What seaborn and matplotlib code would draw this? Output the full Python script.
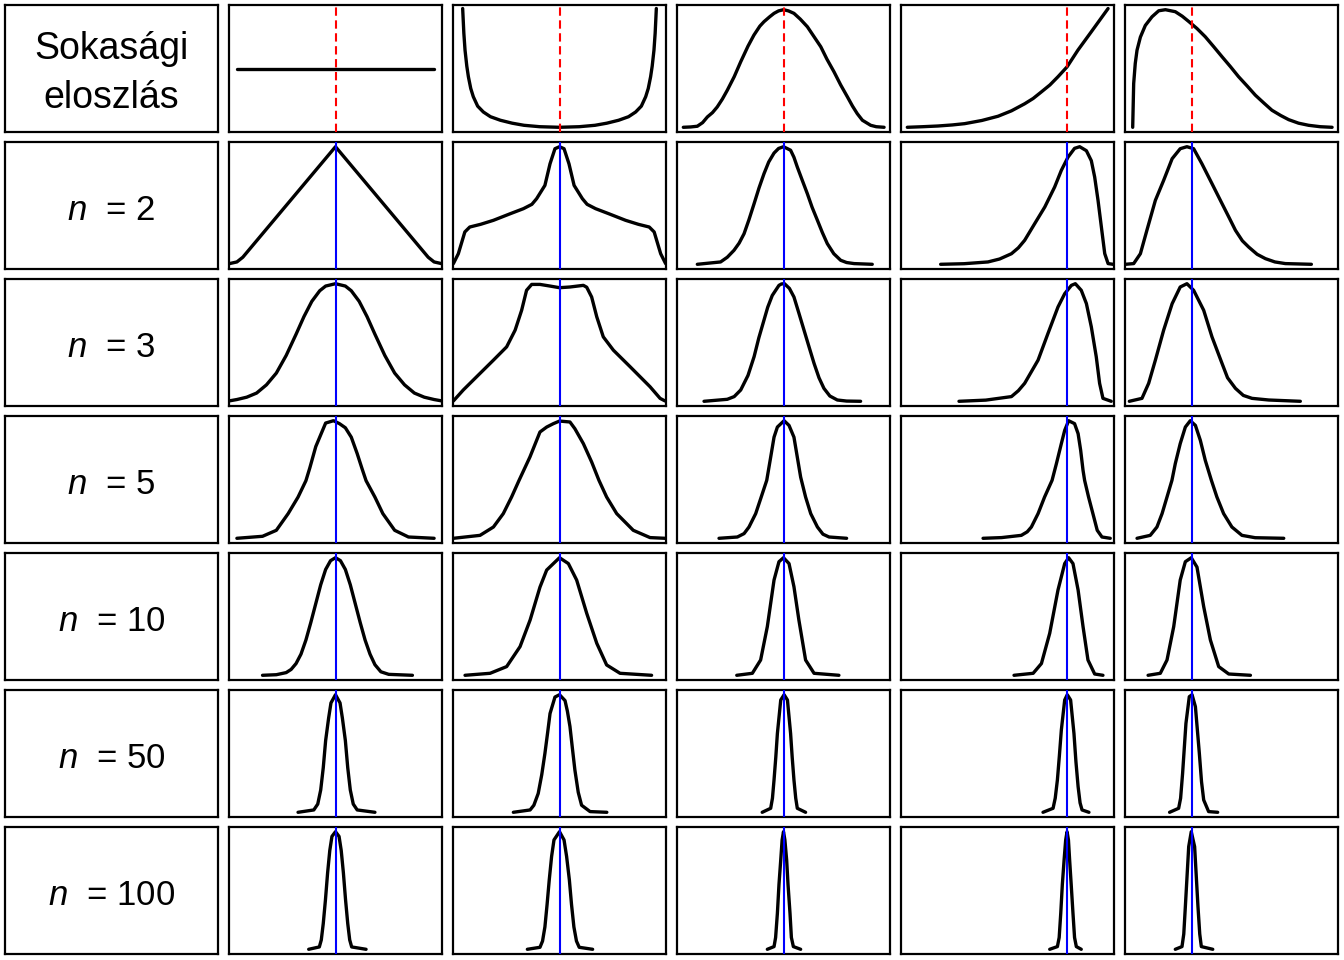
import matplotlib
matplotlib.use("Agg")
import matplotlib.pyplot as plt
import seaborn as sns

# row labels (first column)
row_labels = ["Sokasági\neloszlás", "$n$  = 2", "$n$  = 3", "$n$  = 5",
              "$n$  = 10", "$n$  = 50", "$n$  = 100"]

# population means (vertical lines)
pop_means = [0.5, 0.5, 0.5, 0.80, 0.298]

# --- column 1: uniform population, rows: population, n=2,3,5,10,50,100
unif_x = [
    [0.0, 1.0],
    [-0.04, 0.0, 0.03, 0.1, 0.2, 0.3, 0.4, 0.475, 0.5, 0.525, 0.6, 0.7, 0.8, 0.9, 0.97, 1.0, 1.04],
    [-0.04, 0.0, 0.05, 0.1, 0.15, 0.2, 0.25, 0.3, 0.34, 0.38, 0.42, 0.45, 0.5, 0.55, 0.58, 0.62,
     0.66, 0.7, 0.75, 0.8, 0.85, 0.9, 0.95, 1.0, 1.04],
    [0.0, 0.13, 0.2, 0.26, 0.31, 0.35, 0.37, 0.4, 0.435, 0.45, 0.49, 0.52, 0.55, 0.58, 0.61,
     0.635, 0.655, 0.7, 0.74, 0.8, 0.87, 1.0],
    [0.13, 0.2, 0.25, 0.275, 0.3, 0.325, 0.35, 0.375, 0.4, 0.425, 0.45, 0.475, 0.5, 0.525, 0.55,
     0.575, 0.6, 0.625, 0.65, 0.675, 0.7, 0.73, 0.77, 0.89],
    [0.31, 0.39, 0.41, 0.425, 0.438, 0.45, 0.465, 0.477, 0.5, 0.523, 0.535, 0.55, 0.562, 0.575,
     0.59, 0.61, 0.7],
    [0.364, 0.418, 0.428, 0.438, 0.449, 0.46, 0.471, 0.482, 0.5, 0.518, 0.529, 0.54, 0.551,
     0.562, 0.572, 0.582, 0.655],
]
unif_y = [
    [0.5, 0.5],
    [0.005, 0.02, 0.06, 0.2, 0.4, 0.6, 0.8, 0.95, 1.0, 0.95, 0.8, 0.6, 0.4, 0.2, 0.06, 0.02, 0.005],
    [0.003, 0.015, 0.035, 0.07, 0.14, 0.24, 0.39, 0.57, 0.72, 0.85, 0.94, 0.98, 1.0, 0.98, 0.94,
     0.85, 0.72, 0.57, 0.39, 0.24, 0.14, 0.07, 0.035, 0.015, 0.003],
    [0.0, 0.017, 0.068, 0.21, 0.35, 0.49, 0.6, 0.78, 0.92, 0.98, 1.0, 0.975, 0.94, 0.86, 0.72,
     0.59, 0.49, 0.35, 0.21, 0.068, 0.011, 0.0],
    [0.0, 0.005, 0.023, 0.05, 0.1, 0.18, 0.3, 0.45, 0.61, 0.77, 0.9, 0.975, 1.0, 0.975, 0.9,
     0.77, 0.61, 0.45, 0.3, 0.18, 0.09, 0.03, 0.008, 0.0],
    [0.0, 0.02, 0.07, 0.19, 0.38, 0.61, 0.8, 0.93, 1.0, 0.93, 0.8, 0.61, 0.38, 0.19, 0.07, 0.02, 0.0],
    [0.0, 0.02, 0.08, 0.22, 0.42, 0.65, 0.84, 0.96, 1.0, 0.96, 0.84, 0.65, 0.42, 0.22, 0.08, 0.02, 0.0],
]

# --- column 2: U-shaped population
ushape_x = [
    [0.009, 0.015, 0.021, 0.03, 0.038, 0.05, 0.063, 0.085, 0.114, 0.15, 0.2, 0.26, 0.32, 0.4, 0.5,
     0.6, 0.68, 0.74, 0.8, 0.85, 0.886, 0.915, 0.937, 0.95, 0.962, 0.97, 0.979, 0.985, 0.991],
    [-0.038, -0.013, 0.02, 0.045, 0.1, 0.165, 0.25, 0.317, 0.36, 0.384, 0.426, 0.452, 0.477, 0.5,
     0.523, 0.548, 0.574, 0.616, 0.64, 0.683, 0.75, 0.835, 0.9, 0.955, 0.98, 1.013, 1.038],
    [-0.038, 0.012, 0.08, 0.165, 0.232, 0.275, 0.308, 0.333, 0.359, 0.401, 0.452, 0.5, 0.553,
     0.621, 0.638, 0.663, 0.689, 0.722, 0.773, 0.858, 0.959, 1.01, 1.035],
    [-0.038, 0.097, 0.165, 0.215, 0.257, 0.295, 0.35, 0.401, 0.435, 0.469, 0.5, 0.553, 0.578,
     0.621, 0.663, 0.70, 0.739, 0.79, 0.874, 0.959, 1.035],
    [0.021, 0.148, 0.232, 0.30, 0.351, 0.401, 0.435, 0.469, 0.5, 0.545, 0.587, 0.638, 0.689,
     0.739, 0.807, 0.967],
    [0.266, 0.351, 0.37, 0.392, 0.41, 0.426, 0.44, 0.452, 0.477, 0.5, 0.528, 0.54, 0.553, 0.565,
     0.578, 0.595, 0.612, 0.655, 0.74],
    [0.337, 0.401, 0.414, 0.426, 0.437, 0.448, 0.46, 0.472, 0.5, 0.523, 0.536, 0.55, 0.561, 0.573,
     0.586, 0.6, 0.668],
]
ushape_y = [
    [1.01, 0.8, 0.656, 0.52, 0.43, 0.33, 0.26, 0.18, 0.13, 0.09, 0.06, 0.035, 0.017, 0.005, 0.0,
     0.005, 0.017, 0.035, 0.06, 0.09, 0.13, 0.18, 0.26, 0.33, 0.43, 0.52, 0.656, 0.8, 1.01],
    [0.006, 0.09, 0.275, 0.317, 0.34, 0.374, 0.43, 0.473, 0.51, 0.558, 0.671, 0.855, 0.983, 1.0,
     0.983, 0.855, 0.671, 0.558, 0.51, 0.473, 0.43, 0.374, 0.34, 0.317, 0.275, 0.09, 0.006],
    [0.003, 0.096, 0.209, 0.35, 0.463, 0.605, 0.774, 0.944, 0.994, 0.994, 0.98, 0.966, 0.972,
     0.986, 0.97, 0.887, 0.718, 0.548, 0.435, 0.294, 0.124, 0.025, 0.003],
    [0.0, 0.025, 0.096, 0.21, 0.351, 0.493, 0.691, 0.904, 0.946, 0.975, 0.997, 0.989, 0.932,
     0.805, 0.649, 0.493, 0.351, 0.21, 0.068, 0.006, 0.0],
    [0.0, 0.017, 0.074, 0.244, 0.47, 0.75, 0.895, 0.95, 1.0, 0.95, 0.81, 0.527, 0.272, 0.088,
     0.017, 0.0],
    [0.0, 0.02, 0.06, 0.16, 0.32, 0.5, 0.68, 0.84, 0.98, 1.0, 0.95, 0.86, 0.73, 0.55, 0.36, 0.17,
     0.06, 0.006, 0.0],
    [0.0, 0.017, 0.07, 0.19, 0.38, 0.59, 0.79, 0.93, 1.0, 0.93, 0.79, 0.59, 0.38, 0.19, 0.07,
     0.017, 0.0],
]

# --- column 3: normal population
normal_x = [
    [-0.008, 0.03, 0.063, 0.09, 0.114, 0.14, 0.164, 0.19, 0.215, 0.25, 0.283, 0.32, 0.35, 0.38,
     0.401, 0.43, 0.452, 0.475, 0.5, 0.525, 0.553, 0.585, 0.621, 0.655, 0.689, 0.72, 0.756,
     0.79, 0.824, 0.85, 0.874, 0.9, 0.942, 0.97, 1.01],
    [0.063, 0.181, 0.215, 0.249, 0.275, 0.30, 0.325, 0.351, 0.376, 0.401, 0.425, 0.452, 0.475,
     0.5, 0.536, 0.553, 0.57, 0.595, 0.621, 0.645, 0.672, 0.697, 0.722, 0.755, 0.79, 0.82,
     0.858, 0.95],
    [0.097, 0.215, 0.25, 0.283, 0.32, 0.351, 0.375, 0.401, 0.42, 0.443, 0.477, 0.49, 0.505,
     0.53, 0.553, 0.578, 0.604, 0.63, 0.655, 0.68, 0.705, 0.735, 0.773, 0.82, 0.891],
    [0.173, 0.266, 0.3, 0.325, 0.359, 0.387, 0.415, 0.435, 0.452, 0.469, 0.503, 0.528, 0.553,
     0.57, 0.587, 0.612, 0.638, 0.672, 0.7, 0.731, 0.82],
    [0.263, 0.342, 0.384, 0.418, 0.452, 0.477, 0.5, 0.528, 0.553, 0.578, 0.612, 0.655, 0.781],
    [0.392, 0.435, 0.444, 0.452, 0.461, 0.469, 0.486, 0.503, 0.52, 0.536, 0.544, 0.553, 0.562,
     0.57, 0.612],
    [0.418, 0.452, 0.46, 0.469, 0.477, 0.486, 0.493, 0.5, 0.507, 0.516, 0.523, 0.533, 0.54, 0.55,
     0.587],
]
normal_y = [
    [0.0, 0.003, 0.009, 0.04, 0.088, 0.125, 0.173, 0.24, 0.315, 0.43, 0.557, 0.69, 0.784, 0.86,
     0.898, 0.94, 0.969, 0.99, 1.0, 0.99, 0.969, 0.92, 0.855, 0.77, 0.685, 0.58, 0.472, 0.36,
     0.259, 0.18, 0.116, 0.06, 0.017, 0.005, 0.0],
    [0.0, 0.02, 0.06, 0.119, 0.18, 0.26, 0.38, 0.516, 0.65, 0.77, 0.87, 0.946, 0.985, 1.0,
     0.97, 0.91, 0.827, 0.715, 0.6, 0.485, 0.374, 0.27, 0.176, 0.09, 0.034, 0.015, 0.006, 0.0],
    [0.0, 0.017, 0.04, 0.096, 0.22, 0.38, 0.54, 0.69, 0.8, 0.9, 0.986, 0.998, 1.0, 0.96, 0.887,
     0.75, 0.605, 0.46, 0.322, 0.2, 0.11, 0.045, 0.011, 0.002, 0.0],
    [0.0, 0.011, 0.04, 0.096, 0.21, 0.351, 0.493, 0.69, 0.86, 0.946, 1.0, 0.96, 0.86, 0.69,
     0.52, 0.351, 0.21, 0.096, 0.035, 0.011, 0.0],
    [0.0, 0.017, 0.13, 0.414, 0.81, 0.966, 1.0, 0.95, 0.753, 0.47, 0.13, 0.017, 0.0],
    [0.0, 0.034, 0.12, 0.275, 0.47, 0.67, 0.955, 1.0, 0.955, 0.67, 0.47, 0.275, 0.12, 0.034, 0.0],
    [0.0, 0.023, 0.1, 0.306, 0.55, 0.76, 0.93, 1.0, 0.93, 0.76, 0.55, 0.306, 0.1, 0.023, 0.0],
]

# --- column 4: increasing (exponential-like) population
growth_x = [
    [-0.008, 0.07, 0.147, 0.22, 0.283, 0.37, 0.452, 0.52, 0.587, 0.63, 0.671, 0.715, 0.756,
     0.802, 0.857, 0.925, 1.01],
    [0.161, 0.28, 0.401, 0.46, 0.52, 0.555, 0.587, 0.638, 0.689, 0.739, 0.773, 0.807, 0.84,
     0.866, 0.9, 0.925, 0.942, 0.959, 0.976, 0.993, 1.01, 1.035],
    [0.254, 0.39, 0.52, 0.555, 0.587, 0.655, 0.705, 0.756, 0.79, 0.824, 0.844, 0.874, 0.9,
     0.925, 0.95, 0.967, 0.984, 1.026],
    [0.376, 0.47, 0.57, 0.6, 0.621, 0.655, 0.688, 0.726, 0.748, 0.773, 0.79, 0.81, 0.84, 0.858,
     0.871, 0.883, 0.891, 0.911, 0.933, 0.955, 0.979, 1.021],
    [0.533, 0.63, 0.672, 0.714, 0.756, 0.79, 0.81, 0.832, 0.858, 0.883, 0.908, 0.942, 0.984],
    [0.68, 0.731, 0.742, 0.753, 0.763, 0.773, 0.79, 0.803, 0.82, 0.837, 0.847, 0.858, 0.868,
     0.878, 0.913],
    [0.714, 0.753, 0.762, 0.77, 0.778, 0.787, 0.795, 0.802, 0.809, 0.815, 0.823, 0.832, 0.84,
     0.849, 0.874],
]
growth_y = [
    [0.0, 0.005, 0.011, 0.02, 0.031, 0.058, 0.094, 0.14, 0.2, 0.245, 0.3, 0.36, 0.43, 0.514,
     0.656, 0.8125, 1.01],
    [0.0, 0.005, 0.02, 0.045, 0.09, 0.14, 0.204, 0.346, 0.487, 0.657, 0.799, 0.912, 0.986,
     1.0, 0.966, 0.881, 0.742, 0.544, 0.317, 0.091, 0.006, 0.0],
    [0.0, 0.01, 0.04, 0.09, 0.153, 0.35, 0.576, 0.802, 0.915, 0.986, 1.0, 0.944, 0.831, 0.633,
     0.379, 0.153, 0.025, 0.0],
    [0.0, 0.006, 0.025, 0.055, 0.096, 0.21, 0.351, 0.493, 0.635, 0.805, 0.918, 1.0, 0.975,
     0.89, 0.748, 0.578, 0.493, 0.351, 0.21, 0.068, 0.011, 0.0],
    [0.0, 0.017, 0.10, 0.357, 0.725, 0.95, 1.0, 0.95, 0.725, 0.414, 0.13, 0.011, 0.0],
    [0.0, 0.034, 0.12, 0.275, 0.48, 0.70, 0.955, 1.0, 0.955, 0.67, 0.43, 0.218, 0.08, 0.02, 0.0],
    [0.0, 0.023, 0.1, 0.306, 0.55, 0.76, 0.93, 1.0, 0.93, 0.76, 0.55, 0.306, 0.1, 0.023, 0.0],
]

# --- column 5: right-skewed population
skew_x = [
    [-0.001, 0.004, 0.012, 0.021, 0.038, 0.063, 0.097, 0.131, 0.165, 0.215, 0.25, 0.283, 0.325,
     0.367, 0.41, 0.452, 0.495, 0.536, 0.58, 0.621, 0.665, 0.705, 0.75, 0.79, 0.84, 0.891,
     0.95, 1.01],
    [-0.038, 0.004, 0.038, 0.071, 0.114, 0.156, 0.199, 0.24, 0.274, 0.308, 0.35, 0.401, 0.452,
     0.49, 0.52, 0.555, 0.587, 0.63, 0.672, 0.72, 0.773, 0.905],
    [-0.018, 0.046, 0.08, 0.114, 0.156, 0.199, 0.24, 0.274, 0.308, 0.359, 0.401, 0.452, 0.48,
     0.52, 0.56, 0.604, 0.689, 0.849],
    [0.021, 0.088, 0.122, 0.148, 0.173, 0.198, 0.215, 0.24, 0.266, 0.291, 0.317, 0.342, 0.367,
     0.398, 0.426, 0.46, 0.502, 0.553, 0.62, 0.765],
    [0.077, 0.139, 0.173, 0.207, 0.24, 0.266, 0.296, 0.325, 0.359, 0.393, 0.435, 0.486, 0.596],
    [0.186, 0.232, 0.242, 0.252, 0.269, 0.286, 0.3, 0.317, 0.337, 0.348, 0.359, 0.384, 0.43],
    [0.215, 0.249, 0.258, 0.266, 0.283, 0.296, 0.313, 0.33, 0.339, 0.347, 0.405],
]
skew_y = [
    [0.0, 0.372, 0.543, 0.656, 0.767, 0.866, 0.94, 0.991, 1.0, 0.983, 0.945, 0.9, 0.84, 0.77,
     0.685, 0.6, 0.515, 0.43, 0.35, 0.273, 0.205, 0.145, 0.1, 0.065, 0.035, 0.017, 0.005, 0.0],
    [0.0, 0.006, 0.09, 0.289, 0.544, 0.714, 0.898, 0.983, 1.0, 0.983, 0.855, 0.686, 0.516,
     0.39, 0.289, 0.2, 0.147, 0.085, 0.048, 0.02, 0.006, 0.0],
    [0.0, 0.025, 0.153, 0.35, 0.605, 0.83, 0.972, 1.0, 0.944, 0.774, 0.548, 0.322, 0.2,
     0.11, 0.05, 0.025, 0.011, 0.0],
    [0.0, 0.025, 0.096, 0.21, 0.351, 0.493, 0.635, 0.805, 0.946, 1.0, 0.96, 0.833, 0.663,
     0.493, 0.351, 0.21, 0.096, 0.025, 0.005, 0.0],
    [0.0, 0.017, 0.13, 0.414, 0.81, 0.966, 1.0, 0.92, 0.584, 0.30, 0.074, 0.011, 0.0],
    [0.0, 0.034, 0.12, 0.33, 0.756, 0.983, 1.0, 0.898, 0.5, 0.26, 0.105, 0.006, 0.0],
    [0.0, 0.023, 0.13, 0.363, 0.873, 1.0, 0.873, 0.363, 0.13, 0.023, 0.0],
]

columns = [(unif_x, unif_y), (ushape_x, ushape_y), (normal_x, normal_y),
           (growth_x, growth_y), (skew_x, skew_y)]

sns.set_style("white")
plt.rcParams["font.family"] = ["Liberation Sans", "DejaVu Sans"]
plt.rcParams["text.color"] = "black"
plt.rcParams["mathtext.fontset"] = "custom"
plt.rcParams["mathtext.rm"] = "Liberation Sans"
plt.rcParams["mathtext.it"] = "Liberation Sans:italic"

fig, axes = plt.subplots(
    7, 6, figsize=(13.44, 9.6), dpi=100,
    gridspec_kw=dict(left=5 / 1344, right=1338 / 1344, top=1 - 5 / 960,
                     bottom=1 - 954 / 960, wspace=11 / 213, hspace=10 / 127))

for r in range(7):
    ax = axes[r, 0]
    fs = 27 if r == 0 else 25
    ax.text(0.5, 0.46, row_labels[r], ha="center", va="center", fontsize=fs,
            color="black", linespacing=1.45, transform=ax.transAxes)
    for c in range(5):
        ax = axes[r, c + 1]
        xs, ys = columns[c]
        sns.lineplot(x=xs[r], y=ys[r], ax=ax, color="black", linewidth=2.4,
                     sort=False, estimator=None, solid_capstyle="round",
                     solid_joinstyle="round")
        if r == 0:
            ax.axvline(pop_means[c], color="red", linewidth=1.5,
                       linestyle=(0, (4, 2.2)), zorder=5)
        else:
            ax.axvline(pop_means[c], color="blue", linewidth=1.5, zorder=5)
        ax.set_xlim(-0.04, 1.04)
        ax.set_ylim(-0.04, 1.04)

for ax in axes.flat:
    ax.set_xticks([])
    ax.set_yticks([])
    ax.set_xlabel("")
    ax.set_ylabel("")
    for s in ax.spines.values():
        s.set_color("black")
        s.set_linewidth(1.6)

fig.savefig("out.png", dpi=100)
